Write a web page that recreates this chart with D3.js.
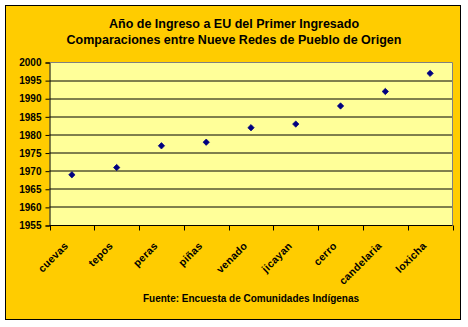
<!DOCTYPE html>
<html><head><meta charset="utf-8">
<script src="https://cdn.jsdelivr.net/npm/d3@7"></script>
<style>body{margin:0;background:#fff}svg{display:block;font-family:"Liberation Sans",Arial,sans-serif}</style>
</head><body><svg id="c" width="468" height="327"></svg>
<script>
const categories = ["cuevas","tepos","peras","piñas","venado","jicayan","cerro","candelaria","loxicha"];
const years = [1969,1971,1977,1978,1982,1983,1988,1992,1997];
const yTicks = [1955,1960,1965,1970,1975,1980,1985,1990,1995,2000];
const titleLines = ["Año de Ingreso a EU del Primer Ingresado","Comparaciones entre Nueve Redes de Pueblo de Origen"];
const sourceText = "Fuente: Encuesta de Comunidades Indígenas";

const svg = d3.select("#c");
svg.append("rect").attr("x",5.5).attr("y",5.5).attr("width",455).attr("height",314)
  .attr("fill","#FFCC00").attr("stroke","#000").attr("stroke-width",1);

const L=49.5, R=452.5, T=62.5, B=225.5;
const x = d3.scaleBand().domain(categories).range([L,R]).padding(0);
const y = d3.scaleLinear().domain([1955,2000]).range([B,T]);

svg.append("rect").attr("x",L).attr("y",T).attr("width",R-L).attr("height",B-T).attr("fill","#FFFF99");

// gridlines
svg.append("g").selectAll("line").data(yTicks.filter(v=>v>1955 && v<2000)).join("line")
  .attr("x1",L).attr("x2",R).attr("y1",d=>Math.round(y(d))).attr("y2",d=>Math.round(y(d)))
  .attr("stroke","#000").attr("stroke-width",1);
svg.append("path").attr("d",`M${L},${T}H${R}V${B}`).attr("fill","none").attr("stroke","#808080");

// y axis
const ya = svg.append("g").attr("transform",`translate(${L},0)`)
  .call(d3.axisLeft(y).tickValues(yTicks).tickFormat(d3.format("d")).tickSize(4).tickPadding(4));
ya.select(".domain").attr("stroke","#000");
ya.selectAll("text").attr("font-size",10).attr("font-weight","bold").attr("fill","#000").attr("font-family","Liberation Sans, Arial, sans-serif");

// x axis
svg.append("line").attr("x1",L).attr("x2",R).attr("y1",B).attr("y2",B).attr("stroke","#000");
const bounds = categories.map(c=>x(c)).concat([x(categories[categories.length-1])+x.bandwidth()]);
svg.append("g").selectAll("line").data(bounds).join("line")
  .attr("x1",d=>Math.round(d)+0.5).attr("x2",d=>Math.round(d)+0.5).attr("y1",B).attr("y2",B+5).attr("stroke","#000");
svg.append("g").selectAll("text").data(categories).join("text")
  .attr("transform",d=>`translate(${x(d)+x.bandwidth()/2-3},${B+21}) rotate(-45)`)
  .attr("text-anchor","end")
  .attr("font-size",10.5).attr("font-weight","bold").attr("letter-spacing",0.3).text(d=>d);

// points
const diamond = d3.symbol().type(d3.symbolDiamond2).size(26);
svg.append("g").selectAll("path").data(categories).join("path")
  .attr("transform",(d,i)=>`translate(${x(d)+x.bandwidth()/2},${y(years[i])})`)
  .attr("d",diamond).attr("fill","#000080").attr("stroke","#000080").attr("stroke-width",0.7);

// titles
svg.append("g").selectAll("text").data(titleLines).join("text")
  .attr("x",234).attr("y",(d,i)=>28+i*16).attr("text-anchor","middle")
  .attr("font-size",12.5).attr("font-weight","bold").text(d=>d);
svg.append("text").attr("x",251).attr("y",302).attr("text-anchor","middle")
  .attr("font-size",10).attr("font-weight","bold").text(sourceText);
</script></body></html>
